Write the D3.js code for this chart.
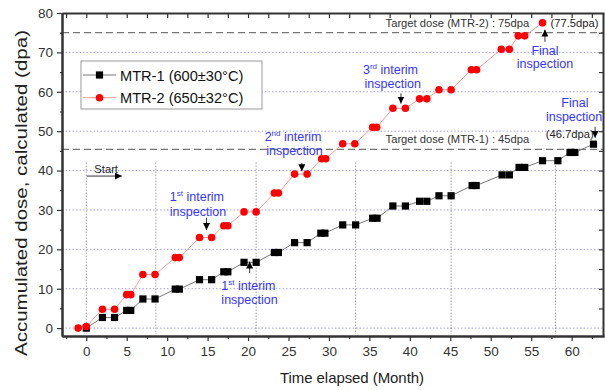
<!DOCTYPE html>
<html>
<head>
<meta charset="utf-8">
<script src="https://cdn.jsdelivr.net/npm/d3@7"></script>
<style>
  html, body { margin: 0; padding: 0; background: #fff; }
  svg { display: block; font-family: 'Liberation Sans', Arial, sans-serif; }
</style>
</head>
<body>
<div id="chart"></div>
<script>
// MTR-1 (600±30°C)
const mtr1Month = [0, 2, 3.5, 5, 5.5, 7, 8.5, 11, 11.5, 14, 15.5, 17, 17.5, 19.5, 21, 23.25, 23.75,
  25.75, 27.3, 29, 29.5, 31.7, 33.3, 35.4, 35.95, 37.9, 39.45, 41.2, 42.1, 43.6, 45.1, 47.7, 48.2,
  51.4, 52.3, 53.5, 54.2, 56.4, 58.3, 59.8, 60.4, 62.7];
const mtr1Dose = [0, 2.7, 2.7, 4.5, 4.5, 7.4, 7.4, 9.9, 9.9, 12.3, 12.3, 14.3, 14.3, 16.7, 16.7, 19.2, 19.2,
  21.7, 21.7, 24.1, 24.1, 26.2, 26.2, 27.9, 27.9, 31.0, 31.0, 32.2, 32.2, 33.6, 33.6, 36.2, 36.2,
  38.9, 38.9, 40.8, 40.8, 42.5, 42.5, 44.6, 44.6, 46.7];

// MTR-2 (650±32°C)
const mtr2Month = [-1, 0, 2, 3.5, 5, 5.5, 7, 8.5, 11, 11.5, 14, 15.5, 17, 17.5, 19.5, 21, 23.25, 23.75,
  25.75, 27.3, 29.1, 29.6, 31.7, 33.2, 35.4, 35.9, 37.9, 39.45, 41.2, 42.1, 43.6, 45.1, 47.6, 48.25,
  51.3, 52.3, 53.4, 54.2, 56.4];
const mtr2Dose = [0, 0.4, 4.8, 4.8, 8.5, 8.5, 13.6, 13.6, 17.9, 17.9, 23.0, 23.0, 26.0, 26.0, 29.5, 29.5, 34.3, 34.3,
  39.1, 39.1, 43.0, 43.0, 46.8, 46.8, 51.0, 51.0, 55.8, 55.8, 58.2, 58.2, 60.5, 60.5, 65.6, 65.6,
  70.8, 70.8, 74.2, 74.2, 77.5];

const inspectionMonths = [0, 8.6, 21, 33.3, 45.1, 58];
const inspectionTop = 42;
const targetDoses = [75, 45.4];
const xTicks = d3.range(0, 61, 5);
const yTicks = d3.range(0, 81, 10);
const gridDoses = d3.range(0, 71, 10);
const seriesNames = ['MTR-1 (600±30°C)', 'MTR-2 (650±32°C)'];

const width = 605;
const height = 390;
const margin = {top: 13, right: 1, bottom: 54, left: 62};

const x = d3.scaleLinear().domain([-3, 64]).range([margin.left, width - margin.right]);
const y = d3.scaleLinear().domain([-2, 80]).range([height - margin.bottom, margin.top]);

const svg = d3.select('#chart').append('svg')
  .attr('width', width)
  .attr('height', height);

svg.append('defs').append('marker')
  .attr('id', 'head')
  .attr('viewBox', '0 0 10 10')
  .attr('refX', 10)
  .attr('refY', 5)
  .attr('markerWidth', 7)
  .attr('markerHeight', 7)
  .attr('markerUnits', 'userSpaceOnUse')
  .attr('orient', 'auto')
  .append('path')
  .attr('d', 'M0,0L10,5L0,10z')
  .attr('fill', '#000');

// grid
svg.append('g')
  .selectAll('line')
  .data(gridDoses)
  .join('line')
  .attr('x1', x.range()[0])
  .attr('x2', x.range()[1])
  .attr('y1', (d) => y(d))
  .attr('y2', (d) => y(d))
  .attr('stroke', '#a0a0f0')
  .attr('stroke-dasharray', '1.5,2');

svg.append('g')
  .selectAll('line')
  .data(inspectionMonths)
  .join('line')
  .attr('x1', (d) => x(d))
  .attr('x2', (d) => x(d))
  .attr('y1', y(inspectionTop))
  .attr('y2', y(-1.5))
  .attr('stroke', '#777')
  .attr('stroke-dasharray', '1,2');

svg.append('g')
  .selectAll('line')
  .data(targetDoses)
  .join('line')
  .attr('x1', x.range()[0])
  .attr('x2', x.range()[1])
  .attr('y1', (d) => y(d))
  .attr('y2', (d) => y(d))
  .attr('stroke', '#777')
  .attr('stroke-width', 1.3)
  .attr('stroke-dasharray', '7,4');

// axes
const axisStyle = (g) => {
  g.select('.domain').attr('stroke', '#333').attr('stroke-width', 2);
  g.selectAll('.tick line').attr('stroke', '#333').attr('stroke-width', 1.2);
  g.selectAll('.tick text').attr('fill', '#333').attr('font-size', 13.5)
    .attr('font-family', 'Liberation Sans, Arial, sans-serif');
};
const minorX = d3.range(-2.5, 64, 2.5).filter((d) => d % 5 !== 0);
const minorY = d3.range(5, 80, 10);

svg.append('g')
  .attr('transform', `translate(0,${y.range()[0]})`)
  .call(d3.axisBottom(x).tickValues(minorX).tickSize(3).tickSizeOuter(0).tickFormat(''))
  .call(axisStyle);
svg.append('g')
  .attr('transform', `translate(0,${y.range()[0]})`)
  .call(d3.axisBottom(x).tickValues(xTicks).tickSize(5).tickSizeOuter(0).tickPadding(5))
  .call(axisStyle);
svg.append('g')
  .attr('transform', `translate(0,${y.range()[1]})`)
  .call(d3.axisTop(x).tickValues(d3.range(-2.5, 64, 2.5)).tickSize(-5).tickSizeOuter(0).tickFormat(''))
  .call(axisStyle);
svg.append('g')
  .attr('transform', `translate(${x.range()[0]},0)`)
  .call(d3.axisLeft(y).tickValues(minorY).tickSize(2).tickSizeOuter(0).tickFormat(''))
  .call(axisStyle);
svg.append('g')
  .attr('transform', `translate(${x.range()[0]},0)`)
  .call(d3.axisLeft(y).tickValues(yTicks).tickSize(5).tickSizeOuter(0).tickPadding(4))
  .call(axisStyle);
svg.append('g')
  .attr('transform', `translate(${x.range()[1] - 1},0)`)
  .call(d3.axisRight(y).tickValues(d3.range(5, 80, 5)).tickSize(-4).tickSizeOuter(0).tickFormat(''))
  .call(axisStyle);

// series
const series = [
  {name: seriesNames[0], pts: mtr1Month.map((m, i) => [m, mtr1Dose[i]]), line: '#777', fill: '#000', shape: 'square'},
  {name: seriesNames[1], pts: mtr2Month.map((m, i) => [m, mtr2Dose[i]]), line: '#ff9a9a', fill: '#ff0000', shape: 'circle'},
];

const line = d3.line().x((d) => x(d[0])).y((d) => y(d[1]));

function drawMarker(g, s) {
  if (s.shape === 'square') {
    g.append('rect').attr('x', -3.6).attr('y', -3.6).attr('width', 7.2).attr('height', 7.2).attr('fill', s.fill);
  } else {
    g.append('circle').attr('r', 3.8).attr('fill', s.fill);
  }
}

for (const s of series) {
  svg.append('path')
    .datum(s.pts)
    .attr('fill', 'none')
    .attr('stroke', s.line)
    .attr('stroke-width', 1)
    .attr('d', line);
  svg.append('g')
    .selectAll('g')
    .data(s.pts)
    .join('g')
    .attr('transform', (d) => `translate(${x(d[0])},${y(d[1])})`)
    .each(function() {drawMarker(d3.select(this), s);});
}

// legend
const legend = svg.append('g');
legend.append('rect')
  .attr('x', 81).attr('y', 61).attr('width', 181).attr('height', 48)
  .attr('fill', '#fff').attr('stroke', '#999').attr('stroke-width', 1);
series.forEach((s, i) => {
  const g = legend.append('g').attr('transform', `translate(0,${75 + i * 22.7})`);
  g.append('line').attr('x1', 83).attr('x2', 116).attr('stroke', s.line);
  drawMarker(g.append('g').attr('transform', 'translate(99.5,0)'), s);
  g.append('text').attr('x', 120).attr('y', 5.5).attr('font-size', 14.6).attr('fill', '#111').text(s.name);
});

// axis titles
svg.append('text')
  .attr('transform', `translate(27,193) rotate(-90)`)
  .attr('text-anchor', 'middle')
  .attr('font-size', 16)
  .attr('fill', '#222')
  .attr('textLength', 326)
  .attr('lengthAdjust', 'spacingAndGlyphs')
  .text('Accumulated dose, calculated (dpa)');

svg.append('text')
  .attr('x', 352).attr('y', 383)
  .attr('text-anchor', 'middle')
  .attr('font-size', 15)
  .attr('fill', '#222')
  .attr('textLength', 144)
  .attr('lengthAdjust', 'spacing')
  .text('Time elapsed (Month)');

// annotations (month, dose positions)
const blue = '#3535ff';
const notes = [
  {m: 10.33, d: 32.3, sup: ['1', 'st', ' interim']},
  {m: 10.33, d: 28.5, text: 'inspection'},
  {m: 16.7, d: 9.7, sup: ['1', 'st', ' interim']},
  {m: 16.7, d: 6.1, text: 'inspection'},
  {m: 22.05, d: 47.6, sup: ['2', 'nd', ' interim']},
  {m: 22.26, d: 43.9, text: 'inspection'},
  {m: 34.2, d: 64.4, sup: ['3', 'rd', ' interim']},
  {m: 34.4, d: 61.0, text: 'inspection'},
  {m: 56.7, d: 69.3, text: 'Final', anchor: 'middle'},
  {m: 56.7, d: 66.0, text: 'inspection', anchor: 'middle'},
  {m: 60.4, d: 56.2, text: 'Final', anchor: 'middle'},
  {m: 60.3, d: 52.65, text: 'inspection', anchor: 'middle'},
];
for (const n of notes) {
  const t = svg.append('text')
    .attr('x', x(n.m)).attr('y', y(n.d))
    .attr('font-size', 12.5)
    .attr('fill', blue)
    .attr('text-anchor', n.anchor || 'start');
  if (n.sup) {
    t.append('tspan').text(n.sup[0]);
    t.append('tspan').attr('font-size', 8).attr('dy', -5).text(n.sup[1]);
    t.append('tspan').attr('dy', 5).text(n.sup[2]);
  } else {
    t.text(n.text);
  }
}

const labels = [
  {m: 37.0, d: 76.4, text: 'Target dose (MTR-2) : 75dpa', fill: '#333'},
  {m: 37.0, d: 47.1, text: 'Target dose (MTR-1) : 45dpa', fill: '#333'},
  {m: 57.4, d: 76.4, text: '(77.5dpa)', fill: '#222'},
  {m: 56.8, d: 48.3, text: '(46.7dpa)', fill: '#222'},
  {m: 1.0, d: 39.4, text: 'Start', fill: '#222'},
];
svg.append('g')
  .selectAll('text')
  .data(labels)
  .join('text')
  .attr('x', (d) => x(d.m))
  .attr('y', (d) => y(d.d))
  .attr('font-size', 11.2)
  .attr('fill', (d) => d.fill)
  .text((d) => d.text);

const arrows = [
  {m0: 14.86, d0: 28.0, m1: 14.86, d1: 24.9},
  {m0: 20.2, d0: 14.0, m1: 20.2, d1: 16.9},
  {m0: 26.65, d0: 41.9, m1: 26.65, d1: 39.8},
  {m0: 38.9, d0: 59.6, m1: 38.9, d1: 57.0},
  {m0: 56.7, d0: 72.7, m1: 56.7, d1: 75.8},
  {m0: 62.9, d0: 51.1, m1: 62.9, d1: 48.3},
  {m0: 0.05, d0: 38.6, m1: 4.4, d1: 38.6},
];
svg.append('g')
  .selectAll('line')
  .data(arrows)
  .join('line')
  .attr('x1', (d) => x(d.m0))
  .attr('y1', (d) => y(d.d0))
  .attr('x2', (d) => x(d.m1))
  .attr('y2', (d) => y(d.d1))
  .attr('stroke', '#000')
  .attr('stroke-width', 0.8)
  .attr('marker-end', 'url(#head)');
</script>
</body>
</html>
